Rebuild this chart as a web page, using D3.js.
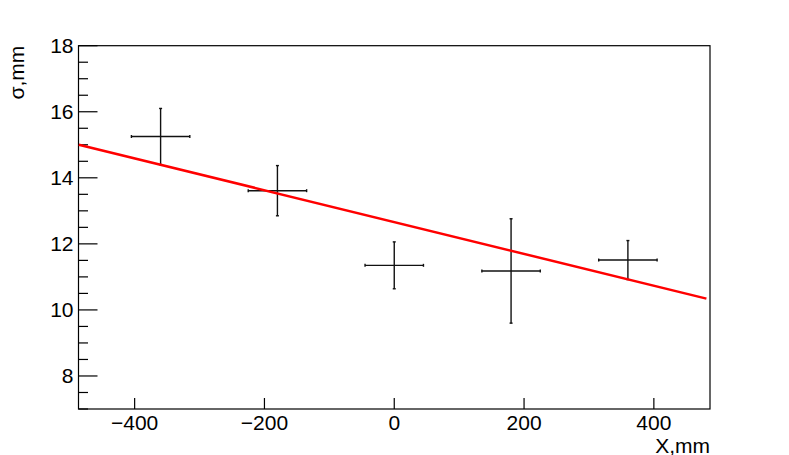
<!DOCTYPE html>
<html>
<head>
<meta charset="utf-8">
<script src="https://cdn.jsdelivr.net/npm/d3@7"></script>
<style>
  html, body { margin: 0; padding: 0; background: #fff; }
  svg { display: block; font-family: "Liberation Sans", Arial, Helvetica, sans-serif; }
</style>
</head>
<body>
<div id="chart"></div>
<script>
// measured points
const xVals = [-360, -180, 0, 180, 360];
const xErrs = [45, 45, 45, 45, 45];
const yVals = [15.25, 13.61, 11.35, 11.18, 11.51];
const yErrs = [0.85, 0.76, 0.71, 1.58, 0.59];

// linear fit  y = p0 + p1 * x
const fitP0 = 12.66;
const fitP1 = -0.00482;
const fitRange = [-486, 481];

const xTicks = [-400, -200, 0, 200, 400];
const yTicks = [8, 10, 12, 14, 16, 18];
const yMinorTicks = d3.range(7, 18.01, 0.5).filter((v) => !yTicks.includes(v));

const width = 789, height = 455;
const margin = { left: 78.5, right: 79, top: 45.7, bottom: 46 };
const fontSize = 21;

const svg = d3.select("#chart")
  .append("svg")
  .attr("width", width)
  .attr("height", height);

const x = d3.scaleLinear()
  .domain([-486.5, 486.5])
  .range([margin.left, width - margin.right]);
const y = d3.scaleLinear()
  .domain([7, 18])
  .range([height - margin.bottom, margin.top]);

// y axis ticks
svg.append("g")
  .selectAll("line.major")
  .data(yTicks)
  .enter()
  .append("line")
  .attr("x1", x.range()[0])
  .attr("x2", x.range()[0] + 19)
  .attr("y1", (d) => y(d))
  .attr("y2", (d) => y(d))
  .attr("stroke", "#000")
  .attr("stroke-width", 1.2);

svg.append("g")
  .selectAll("line.minor")
  .data(yMinorTicks)
  .enter()
  .append("line")
  .attr("x1", x.range()[0])
  .attr("x2", x.range()[0] + 9.5)
  .attr("y1", (d) => y(d))
  .attr("y2", (d) => y(d))
  .attr("stroke", "#000")
  .attr("stroke-width", 1.2);

svg.append("g")
  .selectAll("text")
  .data(yTicks)
  .enter()
  .append("text")
  .attr("x", x.range()[0] - 5)
  .attr("y", (d) => y(d) + 7.5)
  .attr("text-anchor", "end")
  .style("font-size", fontSize + "px")
  .text((d) => d);

// x axis ticks
svg.append("g")
  .selectAll("line")
  .data(xTicks)
  .enter()
  .append("line")
  .attr("x1", (d) => x(d))
  .attr("x2", (d) => x(d))
  .attr("y1", y.range()[0])
  .attr("y2", y.range()[0] - 11)
  .attr("stroke", "#000")
  .attr("stroke-width", 1.2);

svg.append("g")
  .selectAll("text")
  .data(xTicks)
  .enter()
  .append("text")
  .attr("x", (d) => x(d))
  .attr("y", y.range()[0] + 20.5)
  .attr("text-anchor", "middle")
  .style("font-size", fontSize + "px")
  .text((d) => (d < 0 ? "\u2212" + Math.abs(d) : d));

// frame
svg.append("rect")
  .attr("x", x.range()[0])
  .attr("y", y.range()[1])
  .attr("width", x.range()[1] - x.range()[0])
  .attr("height", y.range()[0] - y.range()[1])
  .attr("fill", "none")
  .attr("stroke", "#000")
  .attr("stroke-width", 1.2);

// axis titles
svg.append("text")
  .attr("x", x.range()[1])
  .attr("y", 452.5)
  .attr("text-anchor", "end")
  .style("font-size", fontSize + "px")
  .text("X,mm");

svg.append("text")
  .attr("transform", `translate(23.5,${y.range()[1]}) rotate(-90)`)
  .attr("text-anchor", "end")
  .style("font-size", fontSize + "px")
  .text("σ,mm");

// error bars
const pts = xVals.map((v, i) => ({ x: v, ex: xErrs[i], y: yVals[i], ey: yErrs[i] }));
const eb = svg.append("g")
  .attr("stroke", "#111")
  .attr("stroke-width", 1.4)
  .attr("fill", "none");

pts.forEach((p) => {
  eb.append("line")
    .attr("x1", x(p.x - p.ex)).attr("x2", x(p.x + p.ex))
    .attr("y1", y(p.y)).attr("y2", y(p.y));
  eb.append("line")
    .attr("x1", x(p.x)).attr("x2", x(p.x))
    .attr("y1", y(p.y - p.ey)).attr("y2", y(p.y + p.ey));
  // end caps
  [p.x - p.ex, p.x + p.ex].forEach((xx) => {
    eb.append("line")
      .attr("x1", x(xx)).attr("x2", x(xx))
      .attr("y1", y(p.y) - 1.5).attr("y2", y(p.y) + 1.5);
  });
  [p.y - p.ey, p.y + p.ey].forEach((yy) => {
    eb.append("line")
      .attr("x1", x(p.x) - 1.5).attr("x2", x(p.x) + 1.5)
      .attr("y1", y(yy)).attr("y2", y(yy));
  });
});

// fit line
const line = d3.line()
  .x((d) => x(d))
  .y((d) => y(fitP0 + fitP1 * d));
svg.append("path")
  .datum(fitRange)
  .attr("d", line)
  .attr("fill", "none")
  .attr("stroke", "#ff0000")
  .attr("stroke-width", 2.5);
</script>
</body>
</html>
